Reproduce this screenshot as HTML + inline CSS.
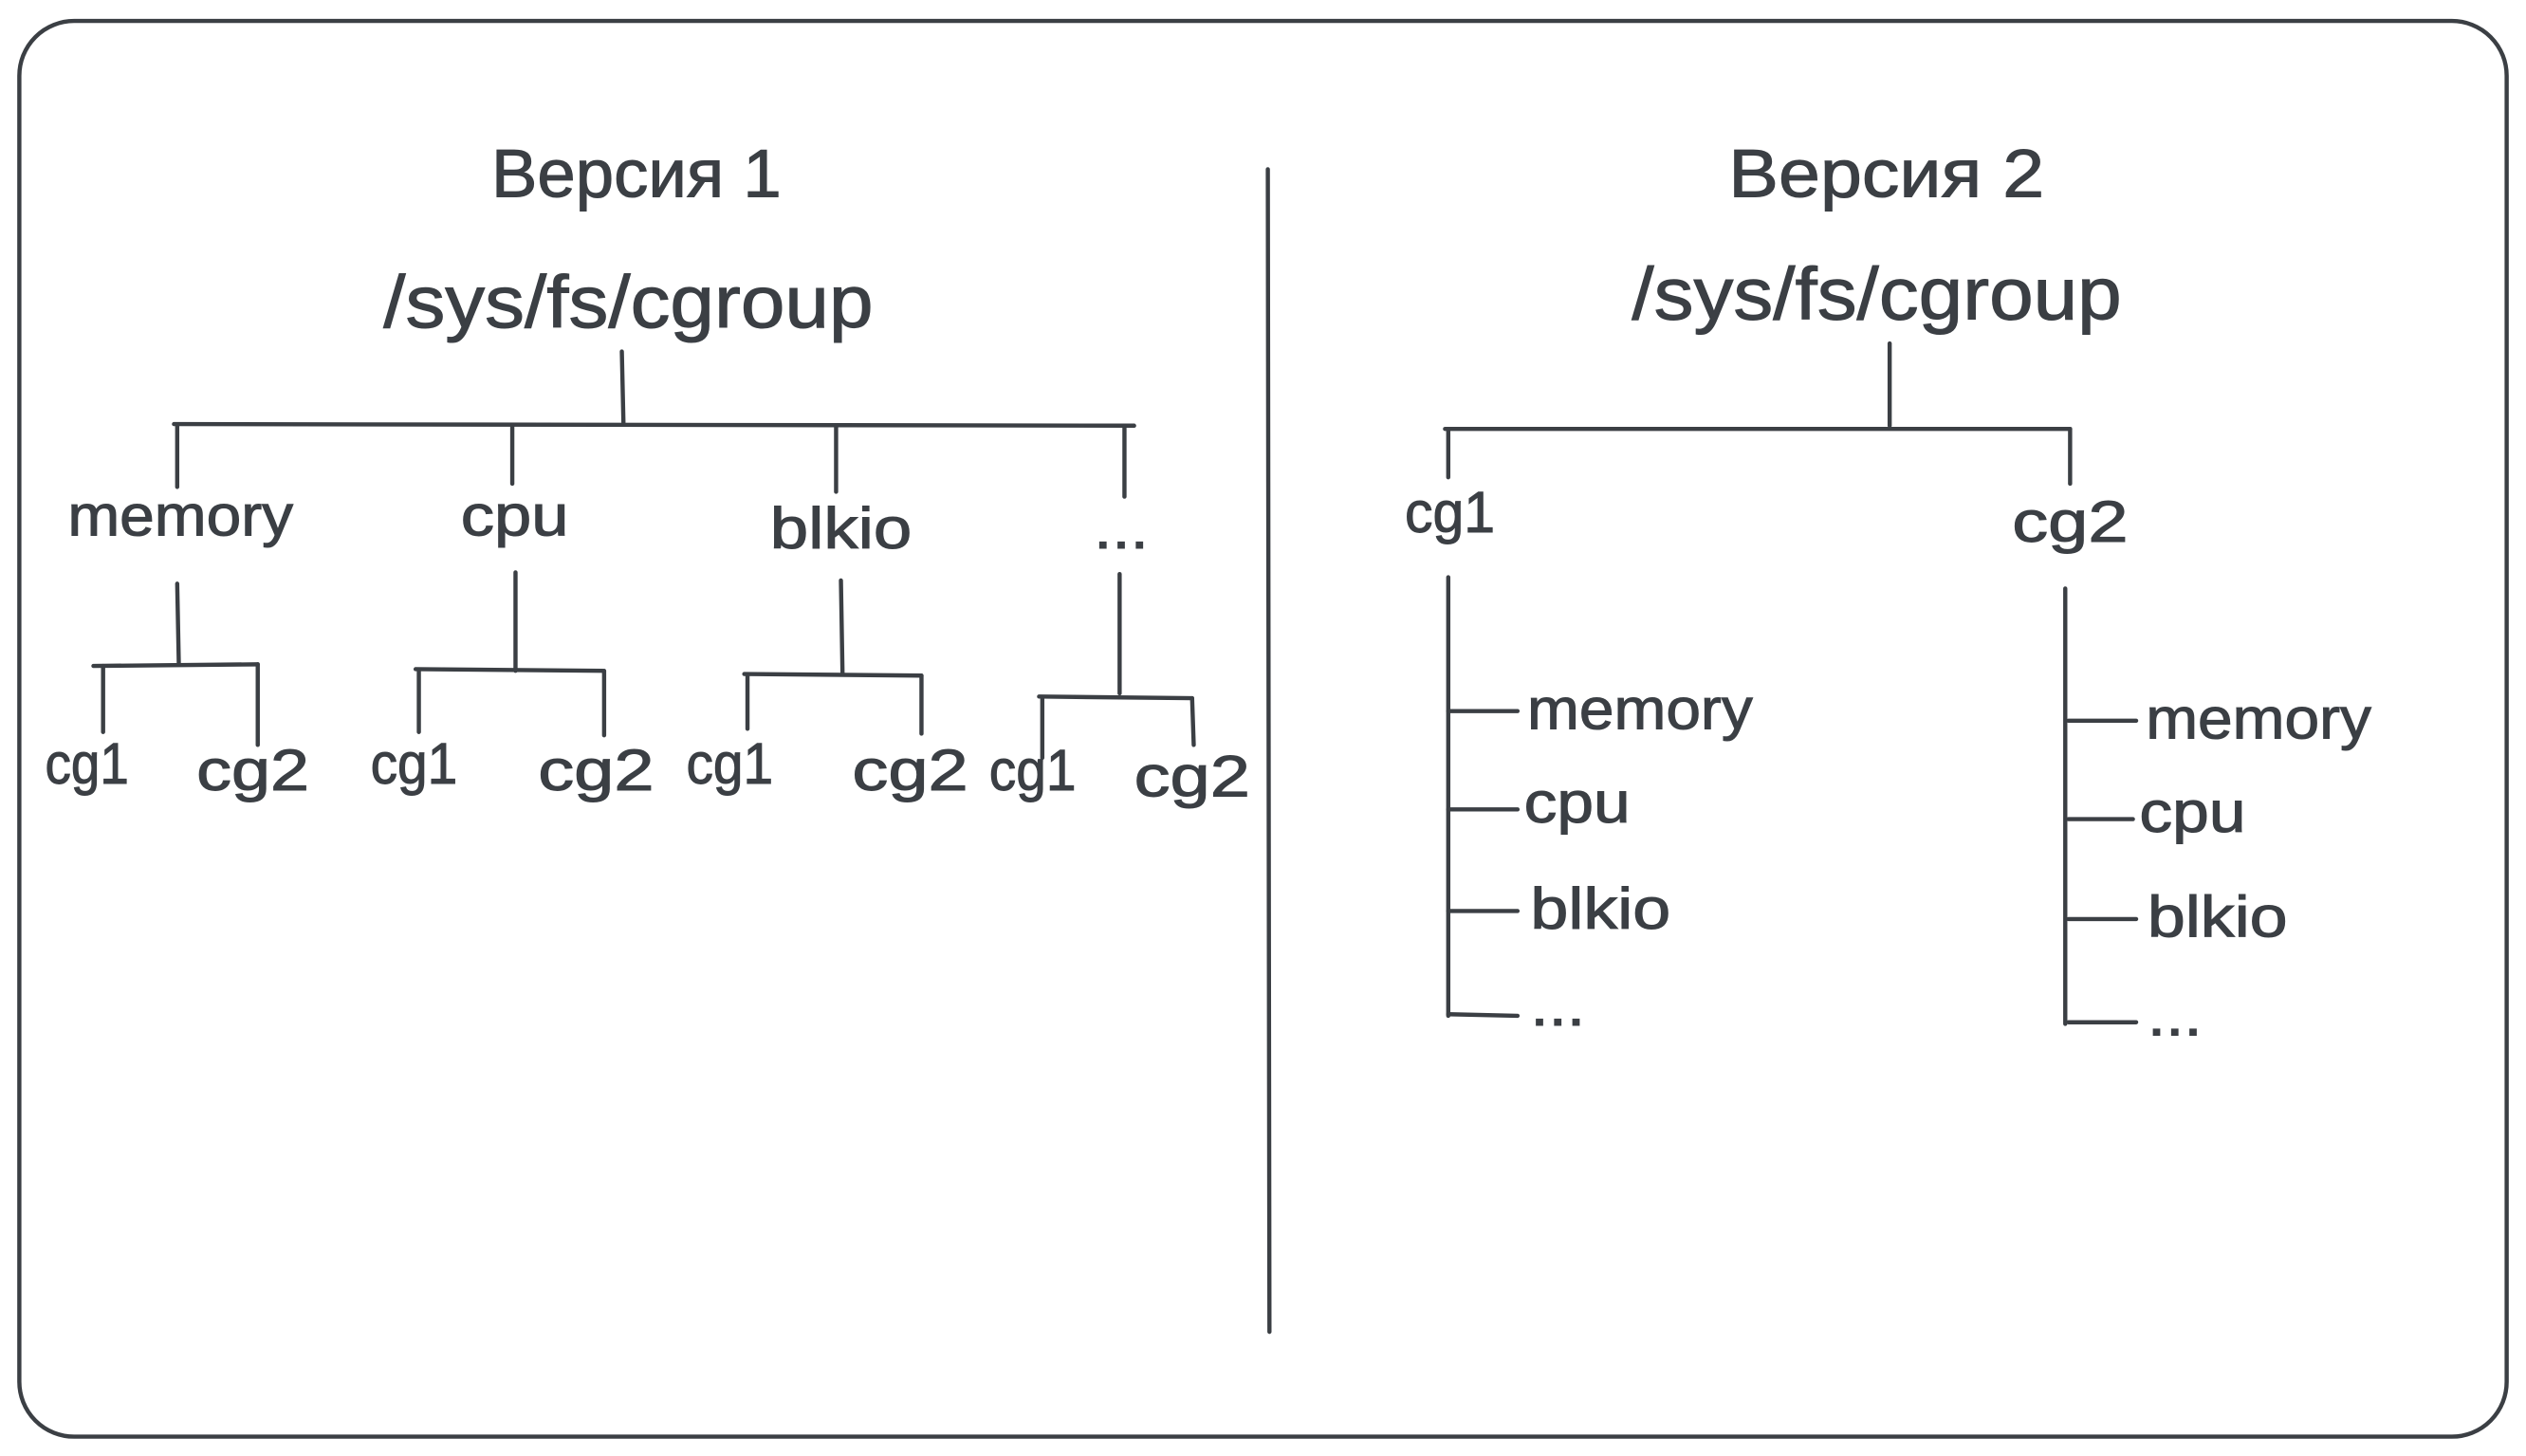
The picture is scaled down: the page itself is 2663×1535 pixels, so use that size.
<!DOCTYPE html>
<html><head><meta charset="utf-8"><style>
html,body{margin:0;padding:0;background:#fff;}
svg{display:block}
text{font-family:"Liberation Sans","DejaVu Sans",sans-serif;fill:#3b3f44;stroke:#3b3f44;stroke-width:0.6}
</style></head><body>
<svg width="2663" height="1535" viewBox="0 0 1568 903" preserveAspectRatio="none" xmlns="http://www.w3.org/2000/svg">
<g fill="none" stroke="#3b3f44" stroke-width="2.6" stroke-linecap="round">
<rect x="12" y="13" width="1544" height="878" rx="34" ry="34"/>
<line x1="787" y1="105" x2="788" y2="826"/>
<line x1="386" y1="218" x2="387" y2="262"/>
<line x1="108" y1="263" x2="704" y2="264"/>
<line x1="110" y1="264" x2="110" y2="302"/>
<line x1="318" y1="264" x2="318" y2="300"/>
<line x1="519" y1="264" x2="519" y2="305"/>
<line x1="698" y1="264" x2="698" y2="308"/>
<line x1="110" y1="362" x2="111" y2="412"/>
<line x1="58" y1="413" x2="160" y2="412"/>
<line x1="64" y1="413" x2="64" y2="454"/>
<line x1="160" y1="412" x2="160" y2="462"/>
<line x1="320" y1="355" x2="320" y2="416"/>
<line x1="258" y1="415" x2="374" y2="416"/>
<line x1="260" y1="416" x2="260" y2="454"/>
<line x1="375" y1="416" x2="375" y2="456"/>
<line x1="522" y1="360" x2="523" y2="418"/>
<line x1="462" y1="418" x2="572" y2="419"/>
<line x1="464" y1="419" x2="464" y2="452"/>
<line x1="572" y1="419" x2="572" y2="455"/>
<line x1="695" y1="356" x2="695" y2="430"/>
<line x1="645" y1="432" x2="740" y2="433"/>
<line x1="647" y1="433" x2="647" y2="470"/>
<line x1="740" y1="433" x2="741" y2="462"/>
<line x1="1173" y1="213" x2="1173" y2="264"/>
<line x1="897" y1="266" x2="1285" y2="266"/>
<line x1="899" y1="266" x2="899" y2="296"/>
<line x1="1285" y1="266" x2="1285" y2="300"/>
<line x1="899" y1="358" x2="899" y2="630"/>
<line x1="899" y1="441" x2="942" y2="441"/>
<line x1="899" y1="502" x2="942" y2="502"/>
<line x1="899" y1="565" x2="942" y2="565"/>
<line x1="899" y1="629" x2="942" y2="630"/>
<line x1="1282" y1="365" x2="1282" y2="635"/>
<line x1="1284" y1="447" x2="1326" y2="447"/>
<line x1="1284" y1="508" x2="1324" y2="508"/>
<line x1="1284" y1="570" x2="1326" y2="570"/>
<line x1="1284" y1="634" x2="1326" y2="634"/>
</g>
<g font-size="42" lengthAdjust="spacingAndGlyphs">
<text x="305" y="122" textLength="180" lengthAdjust="spacingAndGlyphs">Версия 1</text>
<text x="1073" y="122" textLength="196" lengthAdjust="spacingAndGlyphs">Версия 2</text>
<text x="238" y="203" font-size="46" textLength="304" lengthAdjust="spacingAndGlyphs">/sys/fs/cgroup</text>
<text x="1013" y="198" font-size="46" textLength="304" lengthAdjust="spacingAndGlyphs">/sys/fs/cgroup</text>
</g>
<g font-size="36">
<text x="42" y="332" textLength="140" lengthAdjust="spacingAndGlyphs">memory</text>
<text x="286" y="332" textLength="67" lengthAdjust="spacingAndGlyphs">cpu</text>
<text x="478" y="340" textLength="88" lengthAdjust="spacingAndGlyphs">blkio</text>
<text x="679" y="340" textLength="34" lengthAdjust="spacingAndGlyphs">...</text>
<text x="28" y="486" textLength="52" lengthAdjust="spacingAndGlyphs">cg1</text>
<text x="122" y="490" textLength="70" lengthAdjust="spacingAndGlyphs">cg2</text>
<text x="230" y="486" textLength="54" lengthAdjust="spacingAndGlyphs">cg1</text>
<text x="334" y="490" textLength="72" lengthAdjust="spacingAndGlyphs">cg2</text>
<text x="426" y="486" textLength="54" lengthAdjust="spacingAndGlyphs">cg1</text>
<text x="529" y="490" textLength="72" lengthAdjust="spacingAndGlyphs">cg2</text>
<text x="614" y="490" textLength="54" lengthAdjust="spacingAndGlyphs">cg1</text>
<text x="704" y="494" textLength="72" lengthAdjust="spacingAndGlyphs">cg2</text>
<text x="872" y="330" textLength="56" lengthAdjust="spacingAndGlyphs">cg1</text>
<text x="1249" y="336" textLength="72" lengthAdjust="spacingAndGlyphs">cg2</text>
<text x="948" y="452" textLength="140" lengthAdjust="spacingAndGlyphs">memory</text>
<text x="946" y="510" textLength="66" lengthAdjust="spacingAndGlyphs">cpu</text>
<text x="950" y="576" textLength="87" lengthAdjust="spacingAndGlyphs">blkio</text>
<text x="950" y="636" textLength="34" lengthAdjust="spacingAndGlyphs">...</text>
<text x="1332" y="458" textLength="140" lengthAdjust="spacingAndGlyphs">memory</text>
<text x="1328" y="516" textLength="66" lengthAdjust="spacingAndGlyphs">cpu</text>
<text x="1333" y="581" textLength="87" lengthAdjust="spacingAndGlyphs">blkio</text>
<text x="1333" y="642" textLength="34" lengthAdjust="spacingAndGlyphs">...</text>
</g>
</svg>
</body></html>
